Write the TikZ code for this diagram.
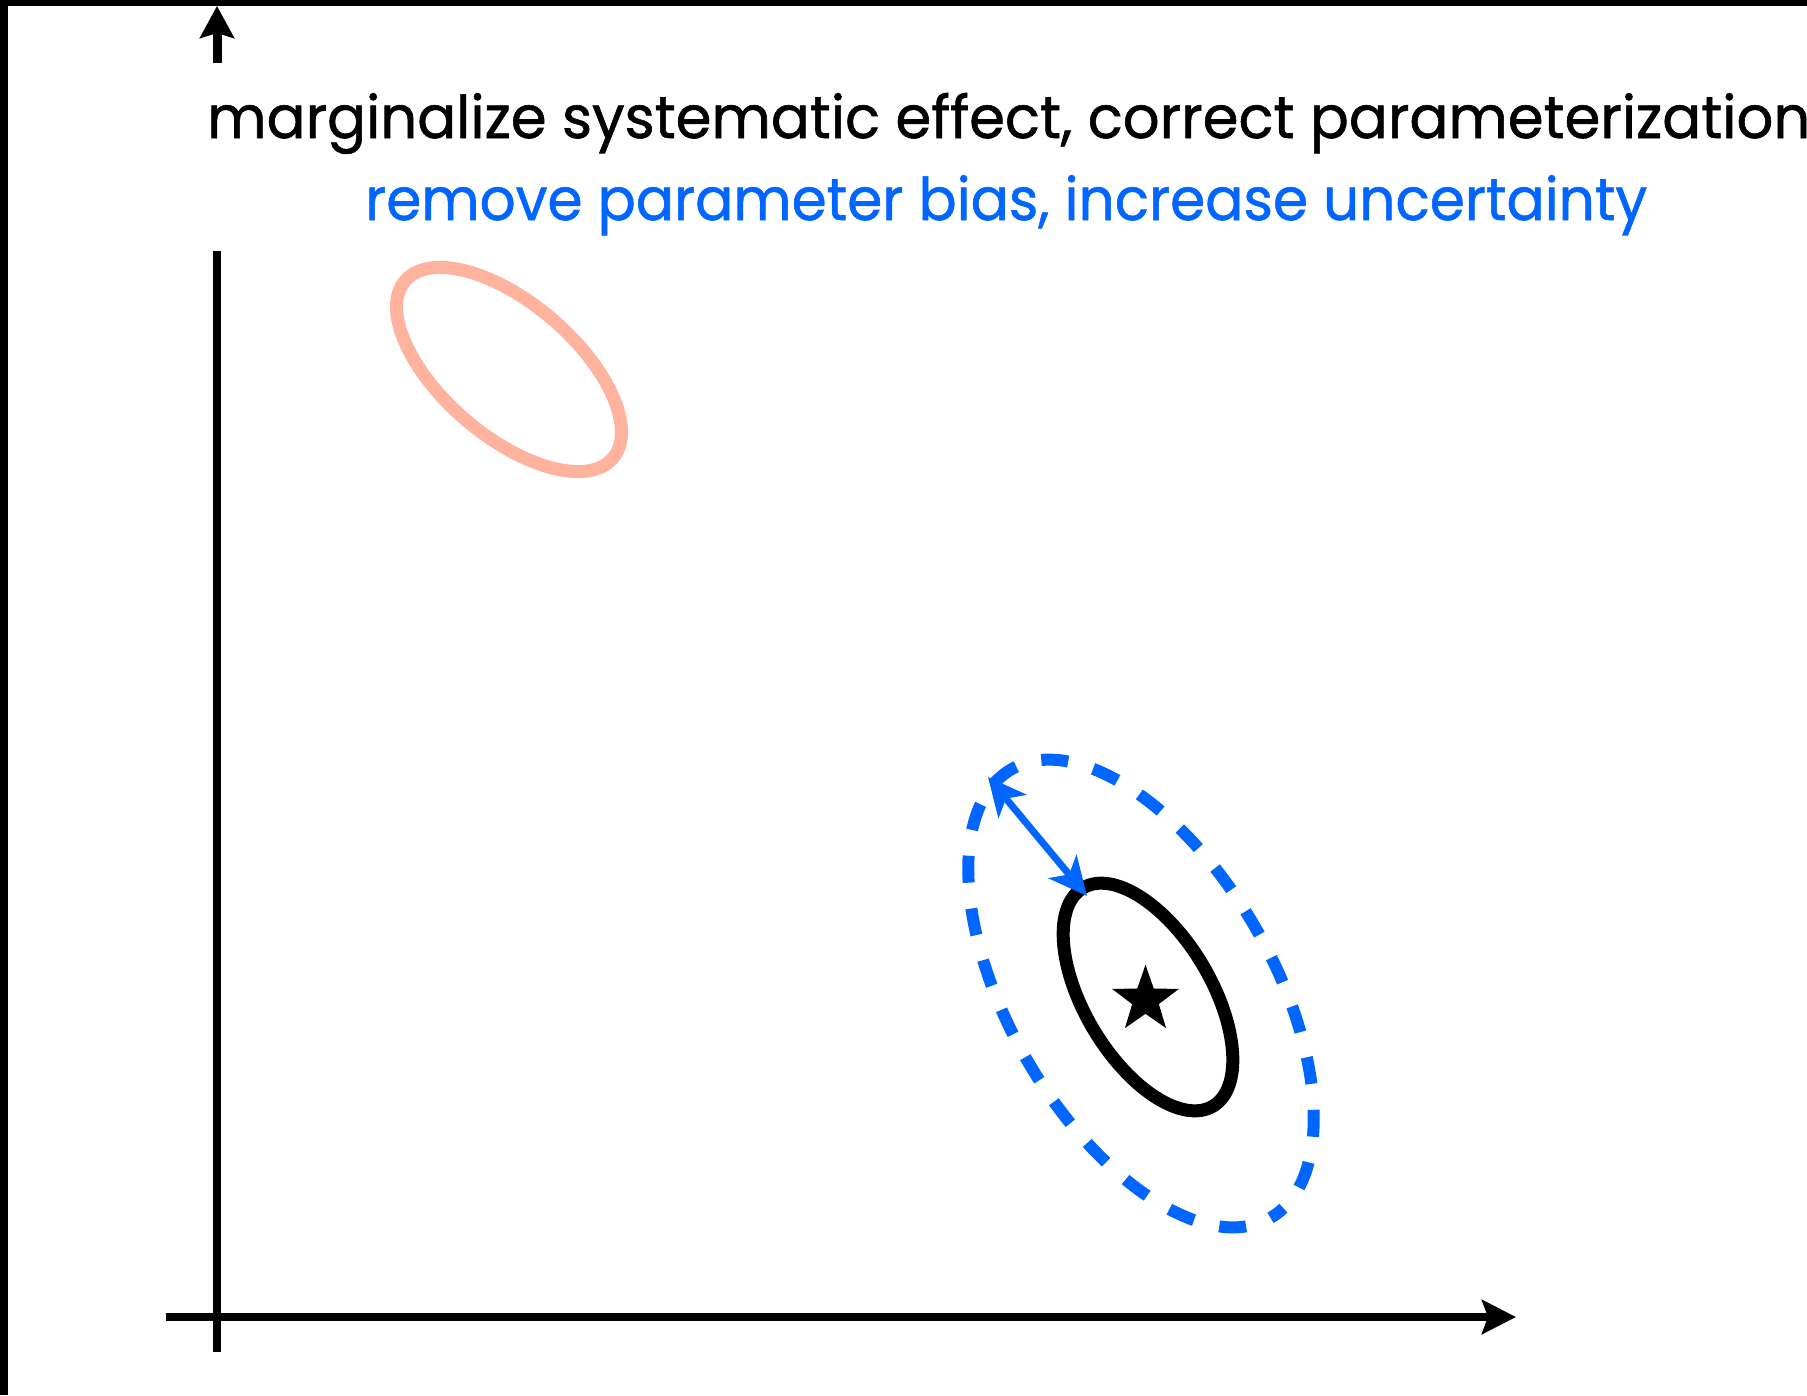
\documentclass[tikz,border=0pt]{standalone}
\usepackage{fontspec}
\setmainfont{Poppins}[FakeBold=1]
\usetikzlibrary{arrows.meta}
\definecolor{myblue}{HTML}{0066FF}
\definecolor{salmon}{HTML}{FFB29E}
\tikzset{
  axisline/.style={line width=8pt, draw=black},
  lbl/.style={inner sep=0pt, anchor=base west, font=\fontsize{59}{70}\selectfont},
  bluearrow/.style={myblue, line width=7pt, {Stealth[length=38pt, width=36pt, inset=10pt]}-{Stealth[length=38pt, width=36pt, inset=10pt]}},
}
\begin{document}
\begin{tikzpicture}[x=1pt, y=-1pt]
\useasboundingbox (0,0) rectangle (1807,1395);
\fill[white] (0,0) rectangle (1807,1395);
% frame bars
\fill[black] (0,0) rectangle (8,1395);
\fill[black] (0,0) rectangle (1807,6);
% axes
\coordinate (ytop0) at (217,63);
\coordinate (ytop1) at (217,6);
\coordinate (yax0) at (217,251);
\coordinate (yax1) at (217,1352);
\coordinate (xax0) at (166,1317);
\coordinate (xax1) at (1516,1317);
\draw[line width=9pt, -{Stealth[length=32pt, width=34pt, inset=5pt]}] (ytop0) -- (ytop1);
\draw[axisline] (yax0) -- (yax1);
\draw[axisline, -{Stealth[length=34pt, width=34pt, inset=6pt]}] (xax0) -- (xax1);
% texts
\node[lbl] (t1) at (207,138) {\resizebox{1603pt}{\height}{marginalize systematic effect, correct parameterization}};
\node[lbl, text=myblue] (t2) at (365,220) {\resizebox{1282pt}{\height}{remove parameter bias, increase uncertainty}};
% salmon ellipse
\begin{scope}[shift={(509,369.5)}, rotate=-40.5]
  \draw[salmon, line width=13pt] (0,0) ellipse [x radius=136.6, y radius=66.4];
\end{scope}
% blue dashed ellipse
\begin{scope}[shift={(1141,993.5)}, rotate=-60]
  \draw[myblue, line width=12pt, dash pattern=on 27pt off 26pt, dash phase=27pt] (0,0) ellipse [x radius=259, y radius=132];
\end{scope}
% black ellipse
\begin{scope}[shift={(1148,997)}, rotate=-59.2]
  \draw[black, line width=13pt] (0,0) ellipse [x radius=127, y radius=63.4];
\end{scope}
% star
\begin{scope}[shift={(1145.5,999.8)}]
  \fill[black] (-90:35) -- (-54:14) -- (-18:35) -- (18:14) -- (54:35) -- (90:14)
     -- (126:35) -- (162:14) -- (198:35) -- (234:14) -- cycle;
\end{scope}
% blue double arrow
\coordinate (ba0) at (988,777);
\coordinate (ba1) at (1087,896);
\draw[bluearrow] (ba0) -- (ba1);
\end{tikzpicture}
\end{document}
